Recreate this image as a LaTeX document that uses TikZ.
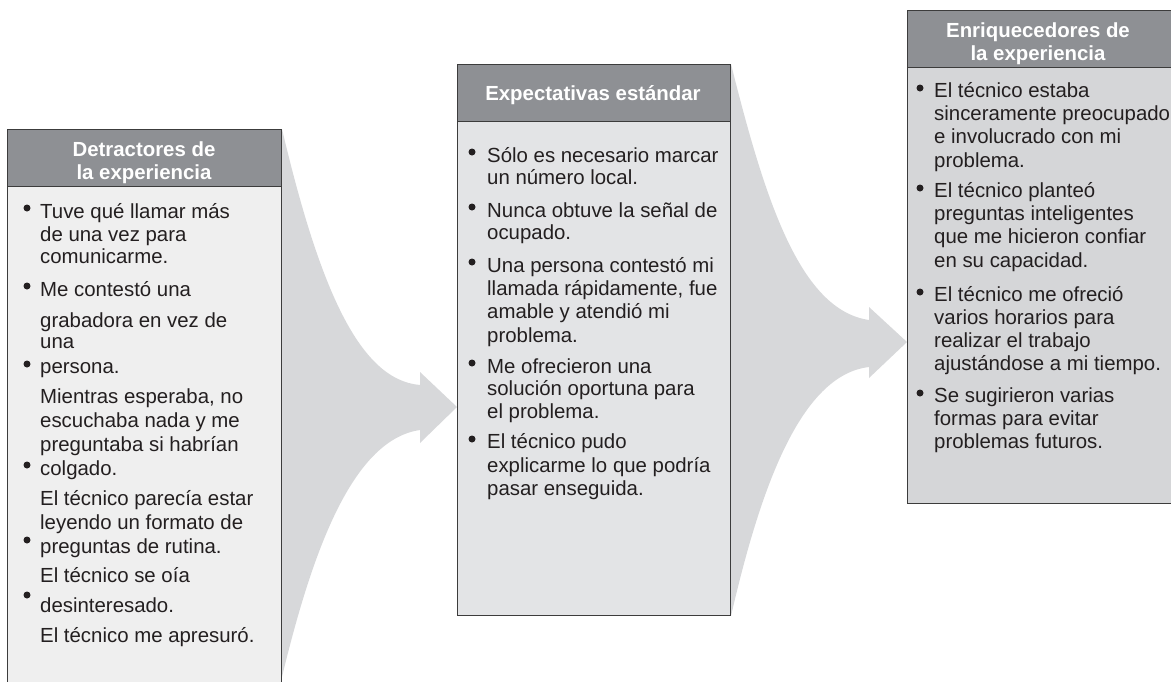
\documentclass[tikz,border=0pt]{standalone}
\usepackage{fontspec}
\setmainfont{Liberation Sans}
\usetikzlibrary{backgrounds}
\definecolor{hdr}{HTML}{8E9094}
\definecolor{bodyL}{HTML}{EFEFEF}
\definecolor{bodyM}{HTML}{E3E4E6}
\definecolor{bodyR}{HTML}{D5D6D8}
\definecolor{arw}{HTML}{D7D8DA}
\definecolor{edge}{HTML}{3C3C3C}
\definecolor{ink}{HTML}{231F20}
\begin{document}
\begin{tikzpicture}[x=1pt,y=-1pt,
  panel/.style={draw=edge, line width=1pt, anchor=north west, inner sep=0pt},
  hbar/.style={draw=edge, line width=1pt, fill=hdr, anchor=north west, inner sep=0pt, minimum height=57pt},
  htxt/.style={text=white, font=\fontsize{20.4}{23}\selectfont\bfseries, anchor=base, inner sep=0pt},
  txt/.style={text=ink, font=\fontsize{20.4}{23}\selectfont, anchor=base west, inner sep=0pt},
  bul/.style={circle, fill=ink, inner sep=0pt, minimum size=7pt},
  flow/.style={fill=arw, draw=none}]
\useasboundingbox (0,0) rectangle (1171,681);

% boxes
\node[panel, fill=bodyL, minimum width=274pt, minimum height=575pt] (L) at (7,129) {};
\node[hbar, minimum width=274pt] (Lh) at (7,129) {};
\node[panel, fill=bodyM, minimum width=273pt, minimum height=551pt] (M) at (457,64) {};
\node[hbar, minimum width=273pt] (Mh) at (457,64) {};
\node[panel, fill=bodyR, minimum width=266pt, minimum height=493pt] (R) at (907,10) {};
\node[hbar, minimum width=266pt] (Rh) at (907,10) {};

% arrows
\coordinate (t1) at (457,407);
\coordinate (t2) at (907,342);
\begin{scope}[on background layer]
\fill[flow] (L.north east) .. controls (320,290) and (360,380) .. (420,385)
  -- (420,372) -- (t1) -- (420,443) -- (420,430)
  .. controls (350,440) and (310,560) .. (281,681) -- (281,700) -- cycle;
\fill[flow] (M.north east) .. controls (765,200) and (800,310) .. (869,320)
  -- (869,307) -- (t2) -- (869,378) -- (869,367)
  .. controls (800,375) and (760,490) .. (M.south east) -- cycle;
\end{scope}

% headers
\node[htxt] (lh1) at (144,156) {Detractores de};
\node[htxt] (lh2) at (144,179) {la experiencia};
\node[htxt] (mh1) at (593,100) {Expectativas estándar};
\node[htxt] (rh1) at (1038,37) {Enriquecedores de};
\node[htxt] (rh2) at (1038,60) {la experiencia};

% left column
\foreach \y [count=\i] in {208,286,364,465,540,595}
  \node[bul] (lb\i) at (27,\y) {};
\node[txt] (lt1) at (40,218) {Tuve qué llamar más};
\node[txt] (lt2) at (40,241) {de una vez para};
\node[txt] (lt3) at (40,263) {comunicarme.};
\node[txt] (lt4) at (40,296) {Me contestó una};
\node[txt] (lt5) at (40,327) {grabadora en vez de};
\node[txt] (lt6) at (40,348) {una};
\node[txt] (lt7) at (40,373) {persona.};
\node[txt] (lt8) at (40,403) {Mientras esperaba, no};
\node[txt] (lt9) at (40,427) {escuchaba nada y me};
\node[txt] (lt10) at (40,451) {preguntaba si habrían};
\node[txt] (lt11) at (40,475) {colgado.};
\node[txt] (lt12) at (40,505) {El técnico parecía estar};
\node[txt] (lt13) at (40,529) {leyendo un formato de};
\node[txt] (lt14) at (40,553) {preguntas de rutina.};
\node[txt] (lt15) at (40,582) {El técnico se oía};
\node[txt] (lt16) at (40,612) {desinteresado.};
\node[txt] (lt17) at (40,642) {El técnico me apresuró.};

% middle column
\foreach \y [count=\i] in {152,207,262,363,439}
  \node[bul] (mb\i) at (472,\y) {};
\node[txt] (mt1) at (487,162) {Sólo es necesario marcar};
\node[txt] (mt2) at (487,184) {un número local.};
\node[txt] (mt3) at (487,217) {Nunca obtuve la señal de};
\node[txt] (mt4) at (487,239) {ocupado.};
\node[txt] (mt5) at (487,272) {Una persona contestó mi};
\node[txt] (mt6) at (487,295) {llamada rápidamente, fue};
\node[txt] (mt7) at (487,318) {amable y atendió mi};
\node[txt] (mt8) at (487,342) {problema.};
\node[txt] (mt9) at (487,373) {Me ofrecieron una};
\node[txt] (mt10) at (487,395) {solución oportuna para};
\node[txt] (mt11) at (487,418) {el problema.};
\node[txt] (mt12) at (487,448) {El técnico pudo};
\node[txt] (mt13) at (487,472) {explicarme lo que podría};
\node[txt] (mt14) at (487,495) {pasar enseguida.};

% right column
\foreach \y [count=\i] in {88,188,292,393}
  \node[bul] (rb\i) at (920,\y) {};
\node[txt] (rt1) at (934,97) {El técnico estaba};
\node[txt] (rt2) at (934,120) {sinceramente preocupado};
\node[txt] (rt3) at (934,143) {e involucrado con mi};
\node[txt] (rt4) at (934,167) {problema.};
\node[txt] (rt5) at (934,197) {El técnico planteó};
\node[txt] (rt6) at (934,220) {preguntas inteligentes};
\node[txt] (rt7) at (934,243) {que me hicieron confiar};
\node[txt] (rt8) at (934,267) {en su capacidad.};
\node[txt] (rt9) at (934,301) {El técnico me ofreció};
\node[txt] (rt10) at (934,324) {varios horarios para};
\node[txt] (rt11) at (934,347) {realizar el trabajo};
\node[txt] (rt12) at (934,370) {ajustándose a mi tiempo.};
\node[txt] (rt13) at (934,402) {Se sugirieron varias};
\node[txt] (rt14) at (934,425) {formas para evitar};
\node[txt] (rt15) at (934,448) {problemas futuros.};
\end{tikzpicture}
\end{document}
